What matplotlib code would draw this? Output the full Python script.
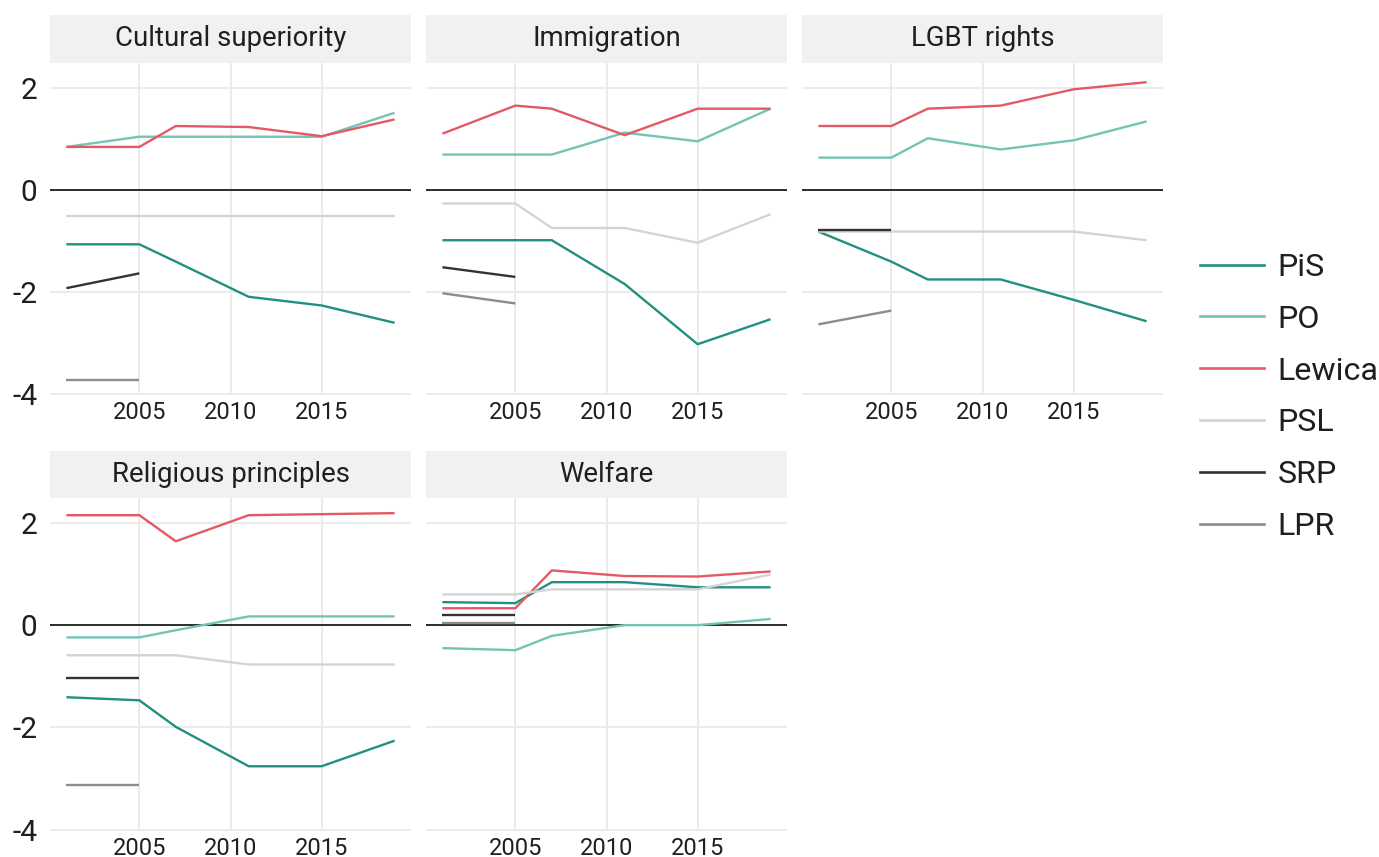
import matplotlib
matplotlib.use("Agg")
import matplotlib.pyplot as plt
from matplotlib.lines import Line2D
from matplotlib.patches import Rectangle

plt.rcParams["font.family"] = ["Roboto", "DejaVu Sans"]
plt.rcParams["axes.unicode_minus"] = False

# Election years and topics
years = [2001, 2005, 2007, 2011, 2015, 2019]
short_years = [2001, 2005]
topics = ["Cultural superiority", "Immigration", "LGBT rights",
          "Religious principles", "Welfare"]
parties = ["PiS", "PO", "Lewica", "PSL", "SRP", "LPR"]

# Party positions per topic (rows follow the order of `topics`)
pis = [
    [-1.07, -1.07, -1.41, -2.10, -2.27, -2.61],
    [-0.99, -0.99, -0.99, -1.85, -3.03, -2.54],
    [-0.82, -1.41, -1.76, -1.76, -2.16, -2.58],
    [-1.41, -1.47, -1.99, -2.76, -2.76, -2.26],
    [0.45, 0.43, 0.84, 0.84, 0.74, 0.74],
]
po = [
    [0.84, 1.04, 1.04, 1.04, 1.04, 1.51],
    [0.69, 0.69, 0.69, 1.12, 0.95, 1.59],
    [0.63, 0.63, 1.01, 0.79, 0.97, 1.34],
    [-0.24, -0.24, -0.10, 0.17, 0.17, 0.17],
    [-0.45, -0.49, -0.21, 0.00, 0.00, 0.12],
]
lewica = [
    [0.84, 0.84, 1.25, 1.23, 1.05, 1.38],
    [1.10, 1.65, 1.59, 1.07, 1.59, 1.59],
    [1.25, 1.25, 1.59, 1.65, 1.97, 2.11],
    [2.15, 2.15, 1.64, 2.15, 2.17, 2.19],
    [0.33, 0.33, 1.07, 0.96, 0.95, 1.05],
]
psl = [
    [-0.52, -0.52, -0.52, -0.52, -0.52, -0.52],
    [-0.27, -0.27, -0.75, -0.75, -1.04, -0.48],
    [-0.82, -0.82, -0.82, -0.82, -0.82, -0.99],
    [-0.59, -0.59, -0.59, -0.77, -0.77, -0.77],
    [0.60, 0.60, 0.70, 0.70, 0.70, 0.99],
]
srp = [
    [-1.93, -1.64],
    [-1.52, -1.71],
    [-0.79, -0.79],
    [-1.03, -1.03],
    [0.20, 0.20],
]
lpr = [
    [-3.73, -3.73],
    [-2.03, -2.23],
    [-2.64, -2.37],
    [-3.12, -3.12],
    [0.05, 0.05],
]

colors = {
    "PiS": "#22907f",
    "PO": "#74c3b5",
    "Lewica": "#e35a63",
    "PSL": "#d4d4d4",
    "SRP": "#333333",
    "LPR": "#8c8c8c",
}
series = [
    ("PiS", years, pis),
    ("PO", years, po),
    ("Lewica", years, lewica),
    ("PSL", years, psl),
    ("SRP", short_years, srp),
    ("LPR", short_years, lpr),
]

# Shared scales with 5% padding
all_vals = [v for _, _, d in series for row in d for v in row]
ymin, ymax = min(all_vals), max(all_vals)
ypad = 0.05 * (ymax - ymin)
ylim = (ymin - ypad, ymax + ypad)
xpad = 0.05 * (max(years) - min(years))
xlim = (min(years) - xpad, max(years) + xpad)

W, H = 1379, 857
fig = plt.figure(figsize=(W / 100, H / 100), dpi=100)
fig.patch.set_facecolor("white")

col_x = [(50, 411), (426, 787), (802, 1163)]
row_y = [(15, 63, 395), (451, 498, 831)]  # strip top, panel top, panel bottom

text_color = "#1f1f1f"
grid_color = "#ebebeb"

for i, topic in enumerate(topics):
    r, c = divmod(i, 3)
    x0, x1 = col_x[c]
    s_top, p_top, p_bot = row_y[r]
    ax = fig.add_axes([x0 / W, 1 - p_bot / H, (x1 - x0) / W, (p_bot - p_top) / H])
    ax.set_xlim(*xlim)
    ax.set_ylim(*ylim)
    for sp in ax.spines.values():
        sp.set_visible(False)
    ax.set_xticks([2005, 2010, 2015])
    ax.set_yticks([-4, -2, 0, 2])
    ax.grid(True, color=grid_color, lw=1.4)
    ax.set_axisbelow(True)
    ax.tick_params(length=0, colors=text_color)
    ax.tick_params(axis="x", labelsize=17, pad=4)
    ax.tick_params(axis="y", labelsize=21.5, pad=9)
    if c != 0:
        ax.tick_params(axis="y", labelleft=False)
    ax.axhline(0, color="#2b2b2b", lw=1.4, zorder=1.5)
    for name, xs, data in series:
        ax.plot(xs, data[i], color=colors[name], lw=1.7, zorder=2,
                solid_capstyle="butt")

    # facet strip
    sax = fig.add_axes([x0 / W, 1 - p_top / H, (x1 - x0) / W, (p_top - s_top) / H])
    sax.set_axis_off()
    sax.add_patch(Rectangle((0, 0), 1, 1, transform=sax.transAxes,
                            facecolor="#f1f1f1", edgecolor="none"))
    sax.text(0.5, 0.5, topic, ha="center", va="center", fontsize=19.8,
             color=text_color, transform=sax.transAxes)

handles = [Line2D([], [], color=colors[p], lw=1.9) for p in parties]
fig.legend(handles, parties, loc="center left",
           bbox_to_anchor=(1200 / W, 1 - 397 / H), frameon=False,
           fontsize=23.2, handlelength=1.98, handletextpad=0.43,
           labelspacing=0.71, borderpad=0, borderaxespad=0,
           labelcolor=text_color)

fig.savefig("out.png", dpi=100, facecolor="white")
